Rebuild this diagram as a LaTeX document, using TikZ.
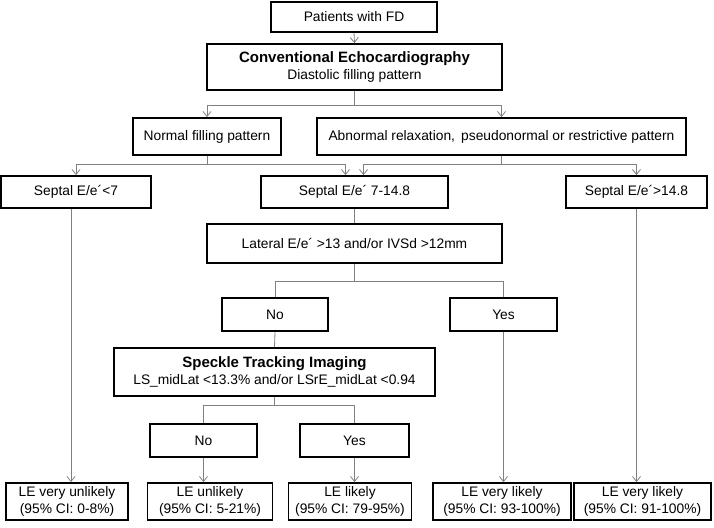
\documentclass[tikz,border=0pt]{standalone}
\usepackage{fontspec}
\setmainfont{Liberation Sans}
\usepackage{tikz}
\usetikzlibrary{arrows.meta,%
                shapes,positioning}

\tikzset{
  box/.style={draw=black, line width=1.8pt, fill=white, inner sep=0pt,
    minimum height=32pt, align=center,
    font=\fontsize{13.8}{16.5}\selectfont},
  link/.style={draw=black!50, line width=0.8pt},
  arr/.style={link, -{Straight Barb[length=5pt,width=8pt]}},
  title/.style={font=\fontsize{15}{18}\selectfont\bfseries}
}

\begin{document}
\begin{tikzpicture}[x=1pt,y=-1pt]
\useasboundingbox (0,0) rectangle (714,527);
%top part
\node[box, minimum width=166pt, minimum height=30pt] (patients) at (354,17) {Patients with FD};
\node[box, minimum width=295pt, minimum height=46pt] (conv) at (354.5,67)
  {{\fontsize{15}{17}\selectfont\bfseries Conventional Echocardiography}\\Diastolic filling pattern};
\node[box, minimum width=148pt, minimum height=37pt] (normal) at (207,136.5) {Normal filling pattern};
\node[box, minimum width=369pt, minimum height=37pt] (abnormal) at (501.5,136.5)
  {Abnormal relaxation,\, pseudonormal or restrictive pattern};
%septal E/e'
\node[box, minimum width=150pt] (seplow) at (76,192) {Septal E/e´<7};
\node[box, minimum width=187pt] (sepmid) at (354.5,192) {Septal E/e´ 7-14.8};
\node[box, minimum width=141pt] (sephigh) at (636.5,192) {Septal E/e´>14.8};
\node[box, minimum width=295pt, minimum height=39pt] (lateral) at (354.5,243.5)
  {Lateral E/e´ >13 and/or IVSd >12mm};
\node[box, minimum width=106pt, minimum height=33pt] (noA) at (275,314.5) {No};
\node[box, minimum width=107pt, minimum height=33pt] (yesA) at (503.5,314.5) {Yes};
\node[box, minimum width=321pt, minimum height=48pt] (speckle) at (274.5,372)
  {{\fontsize{15}{17}\selectfont\bfseries Speckle Tracking Imaging}\\LS\_midLat <13.3\% and/or LSrE\_midLat <0.94};
\node[box, minimum width=107pt, minimum height=33pt] (noB) at (203.5,440.5) {No};
\node[box, minimum width=109pt, minimum height=33pt] (yesB) at (354.5,440.5) {Yes};
%results
\node[box, minimum width=122pt, minimum height=37pt] (leVU) at (67,501.5) {LE very unlikely\\(95\% CI: 0-8\%)};
\node[box, minimum width=125pt, minimum height=37pt] (leU) at (210,501.5) {LE unlikely\\(95\% CI: 5-21\%)};
\node[box, minimum width=123pt, minimum height=37pt] (leL) at (350,501.5) {LE likely\\(95\% CI: 79-95\%)};
\node[box, minimum width=138pt, minimum height=37pt] (leVLa) at (502,501.5) {LE very likely\\(95\% CI: 93-100\%)};
\node[box, minimum width=137pt, minimum height=37pt] (leVLb) at (642.5,501.5) {LE very likely\\(95\% CI: 91-100\%)};
%junction rows
\coordinate (j1) at (0,105);
\coordinate (j2) at (0,164);
\coordinate (j3) at (0,281);
\coordinate (j4) at (0,405);
%connectors
\draw[arr] (patients.south) -- (conv.north);
\draw[arr] (conv.south) -- (conv.south |- j1) -| (normal.north);
\draw[arr] (conv.south |- j1) -| (abnormal.north);
\draw[arr] (normal.south) -- (normal.south |- j2) -| (seplow.north);
\draw[arr] (normal.south |- j2) -| ([xshift=-9pt]sepmid.north);
\draw[arr] (abnormal.south) -- (abnormal.south |- j2) -| ([xshift=9pt]sepmid.north);
\draw[arr] (abnormal.south |- j2) -| (sephigh.north);
\draw[link] (sepmid.south) -- (lateral.north);
\draw[link] (lateral.south) -- (lateral.south |- j3) -| (noA.north);
\draw[link] (lateral.south |- j3) -| (yesA.north);
\draw[link] (noA.south) -- (speckle.north);
\draw[link] (speckle.south) -- (speckle.south |- j4) -| (noB.north);
\draw[link] (speckle.south |- j4) -| (yesB.north);
\draw[arr] (noB.south) -- (noB.south |- leU.north);
\draw[arr] (yesB.south) -- (yesB.south |- leL.north);
\draw[arr] ([xshift=-5pt]seplow.south) -- ([xshift=-5pt]seplow.south |- leVU.north);
\draw[arr] (yesA.south) -- (yesA.south |- leVLa.north);
\draw[arr] (sephigh.south) -- (sephigh.south |- leVLb.north);
\end{tikzpicture}
\end{document}
